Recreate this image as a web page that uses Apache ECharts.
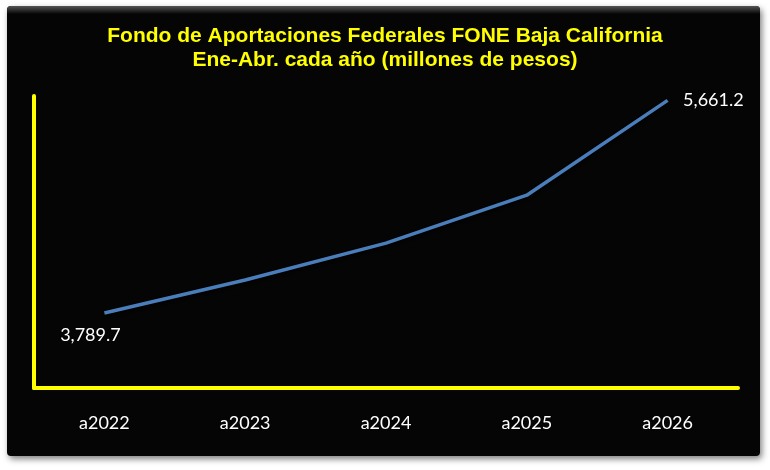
<!DOCTYPE html>
<html><head><meta charset="utf-8">
<script src="https://cdn.jsdelivr.net/npm/echarts@6/dist/echarts.min.js"></script>
<style>html,body{margin:0;padding:0;background:#fff}#c{width:770px;height:470px}</style>
</head><body><div id="c"></div>
<script>
const titleLines = ["Fondo de Aportaciones Federales FONE Baja California", "Ene-Abr. cada año (millones de pesos)"];
const categories = ["a2022", "a2023", "a2024", "a2025", "a2026"];
const values = [3789.7, 4080, 4405, 4827, 5661.2];
const yMin = 3130, yMax = 5700;

const fmt = v => v.toLocaleString('en-US', {minimumFractionDigits: 1, maximumFractionDigits: 1});
const last = values.length - 1;
const data = values.map((v, i) => {
  if (i === 0) return {value: v, label: {show: true, position: 'bottom', offset: [-14, 8]}};
  if (i === last) return {value: v, label: {show: true, position: 'right', offset: [10, 0]}};
  return {value: v, label: {show: false}};
});

const chart = echarts.init(document.getElementById('c'), null, {renderer: 'canvas'});
chart.setOption({
  backgroundColor: '#ffffff',
  animation: false,
  graphic: [{
    type: 'rect', z: -10, silent: true,
    shape: {x: 7, y: 6, width: 753, height: 450, r: 4},
    style: {fill: '#050505', shadowBlur: 6, shadowColor: 'rgba(0,0,0,0.5)', shadowOffsetX: 2, shadowOffsetY: 3}
  }, {
    type: 'rect', z: -9, silent: true,
    shape: {x: 7, y: 6, width: 753, height: 8, r: [4, 4, 0, 0]},
    style: {fill: new echarts.graphic.LinearGradient(0, 0, 0, 1, [{offset: 0, color: '#555'}, {offset: 1, color: '#050505'}])}
  }],
  title: {
    text: titleLines.join('\n'),
    left: 'center', top: 19,
    textStyle: {color: '#ffff00', fontFamily: '"Liberation Sans", Arial, sans-serif', fontWeight: 'bold', fontSize: 21, lineHeight: 24}
  },
  grid: {left: 34, right: 32, top: 96, bottom: 82, containLabel: false},
  xAxis: {
    type: 'category', data: categories, boundaryGap: true,
    axisLine: {show: true, lineStyle: {color: '#ffff00', width: 4}},
    axisTick: {show: false},
    axisLabel: {color: '#ffffff', fontSize: 18, fontFamily: 'Lato, "Open Sans", sans-serif', margin: 26}
  },
  yAxis: {
    type: 'value', min: yMin, max: yMax,
    axisLine: {show: true, lineStyle: {color: '#ffff00', width: 4}},
    axisTick: {show: false}, axisLabel: {show: false}, splitLine: {show: false}
  },
  series: [{
    type: 'line', data: data, symbol: 'circle', symbolSize: 1, showSymbol: true, smooth: false,
    itemStyle: {color: 'rgba(0,0,0,0)'},
    lineStyle: {color: '#4a7ebb', width: 3.5, shadowColor: 'rgba(0,0,0,0.6)', shadowBlur: 3, shadowOffsetY: 2},
    label: {show: true, color: '#ffffff', fontSize: 18, fontFamily: 'Lato, "Open Sans", sans-serif',
      formatter: p => fmt(p.value)}
  }]
});
</script></body></html>
